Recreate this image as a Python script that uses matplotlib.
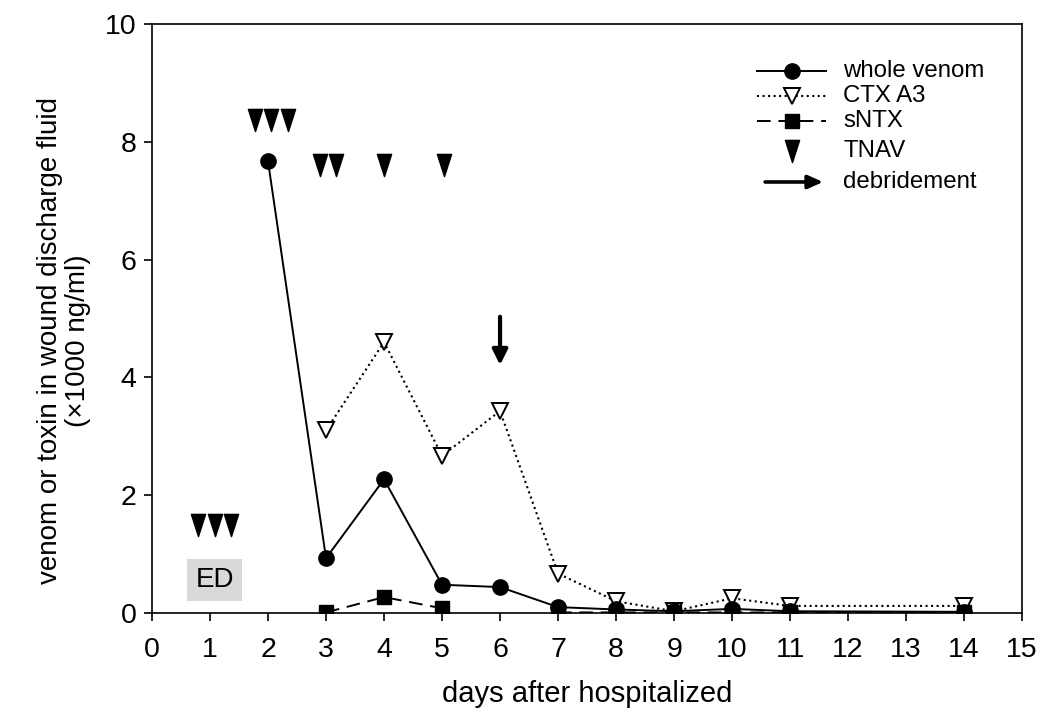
import matplotlib
matplotlib.use("Agg")
import matplotlib.pyplot as plt
import numpy as np
from matplotlib.path import Path

plt.rcParams['font.family'] = ['Liberation Sans', 'DejaVu Sans']

# ---- data ----
days = [2, 3, 4, 5, 6, 7, 8, 9, 10, 11, 14]
whole_venom = [7.67, 0.93, 2.27, 0.48, 0.44, 0.10, 0.06, 0.03, 0.07, 0.03, 0.02]
ctx_days = [3, 4, 5, 6, 7, 8, 9, 10, 11, 14]
ctx_a3 = [3.10, 4.60, 2.67, 3.43, 0.67, 0.20, 0.03, 0.25, 0.12, 0.12]
sntx_days = [3, 4, 5, 6, 7, 8, 9, 10, 11, 14]
sntx = [0.01, 0.27, 0.08, np.nan, 0.01, 0.01, 0.01, 0.01, 0.01, 0.01]
tnav_x = [0.8, 1.08, 1.36, 1.78, 2.06, 2.34, 2.9, 3.18, 4.0, 5.03]
tnav_y = [1.49, 1.49, 1.49, 8.37, 8.37, 8.37, 7.6, 7.6, 7.6, 7.6]
debride_x = 6
debride_y_start = 5.03
debride_y_end = 4.21
ed_x, ed_y = 1.08, 0.56
xticks = list(range(0, 16))
yticks = [0, 2, 4, 6, 8, 10]
legend_labels = ['whole venom', 'CTX A3', 'sNTX', 'TNAV', 'debridement']

tnav_marker = Path([(-0.64, 1.0), (0.64, 1.0), (0.0, -1.0), (-0.64, 1.0)],
                   [Path.MOVETO, Path.LINETO, Path.LINETO, Path.CLOSEPOLY])

venom_style = dict(linestyle='-', color='black', lw=1.4, marker='o', ms=11,
                   mfc='black', mec='black')
ctx_style = dict(linestyle=':', color='black', lw=1.5, marker='v', ms=11,
                 mfc='white', mec='black', mew=1.4)
sntx_style = dict(color='black', lw=1.4, dashes=(7, 4), marker='s', ms=10.5,
                  mfc='black', mec='black')
tnav_style = dict(linestyle='none', marker=tnav_marker, ms=16, color='black')

fig = plt.figure(figsize=(10.57, 7.2), dpi=100)
ax = fig.add_axes([0.1438, 0.1486, 0.967 - 0.1438, 0.9667 - 0.1486])

ax.plot(days, whole_venom, zorder=4, **venom_style)
ax.plot(ctx_days, ctx_a3, zorder=3, **ctx_style)
ax.plot(sntx_days, sntx, zorder=5, **sntx_style)
ax.plot(tnav_x, tnav_y, zorder=4, **tnav_style)

ax.annotate('', xy=(debride_x, debride_y_end), xytext=(debride_x, debride_y_start),
            arrowprops=dict(arrowstyle='-|>,head_length=0.9,head_width=0.45',
                            lw=3, color='black', shrinkA=0, shrinkB=0))

ax.text(ed_x, ed_y, 'ED', fontsize=20, ha='center', va='center',
        bbox=dict(boxstyle='square,pad=0.3', fc='#d9d9d9', ec='none'))

ax.set_xlim(0, 15)
ax.set_ylim(0, 10)
ax.set_xticks(xticks)
ax.set_yticks(yticks)
ax.tick_params(axis='both', direction='out', length=6, width=1.2, labelsize=20.5,
               top=False, right=False)
ax.tick_params(axis='x', pad=11)
ax.tick_params(axis='y', pad=5)
for s in ax.spines.values():
    s.set_linewidth(1.2)

ax.set_xlabel('days after hospitalized', fontsize=21)
ax.xaxis.set_label_coords(0.5, -0.113)
ax.set_ylabel('venom or toxin in wound discharge fluid\n(\u00d71000 ng/ml)',
              fontsize=20, linespacing=1.1)
ax.yaxis.set_label_coords(-0.07, 0.463)

# ---- legend, drawn in axes coordinates ----
T = ax.transAxes
def ax_x(px):
    return (px - 152) / 870.0
def ax_y(py):
    return (613 - py) / 589.0

rows_y = [71, 96, 121, 151, 182]
line_x0, line_x1, mark_x, text_x = ax_x(757), ax_x(826), ax_x(792), ax_x(843)
samples = [venom_style, ctx_style, sntx_style]
for style, py in zip(samples, rows_y[:3]):
    y = ax_y(py)
    line_kw = {k: v for k, v in style.items() if k != 'marker' and not k.startswith('m')}
    ax.plot([line_x0, line_x1], [y, y], transform=T, clip_on=False, **line_kw)
    ax.plot([mark_x], [y], transform=T, clip_on=False, linestyle='none',
            marker=style['marker'], ms=style['ms'], mfc=style['mfc'],
            mec=style['mec'], mew=style.get('mew', 1.0))
ax.plot([mark_x], [ax_y(rows_y[3])], transform=T, clip_on=False, **tnav_style)
ax.annotate('', xy=(ax_x(823), ax_y(rows_y[4])), xytext=(ax_x(765), ax_y(rows_y[4])),
            xycoords=T, textcoords=T,
            arrowprops=dict(arrowstyle='-|>,head_length=0.9,head_width=0.4',
                            lw=2.6, color='black', shrinkA=0, shrinkB=0))
for lab, py in zip(legend_labels, rows_y):
    ax.text(text_x, ax_y(py), lab, transform=T, fontsize=17.3, va='center', ha='left')

fig.savefig('out.png', dpi=100)
